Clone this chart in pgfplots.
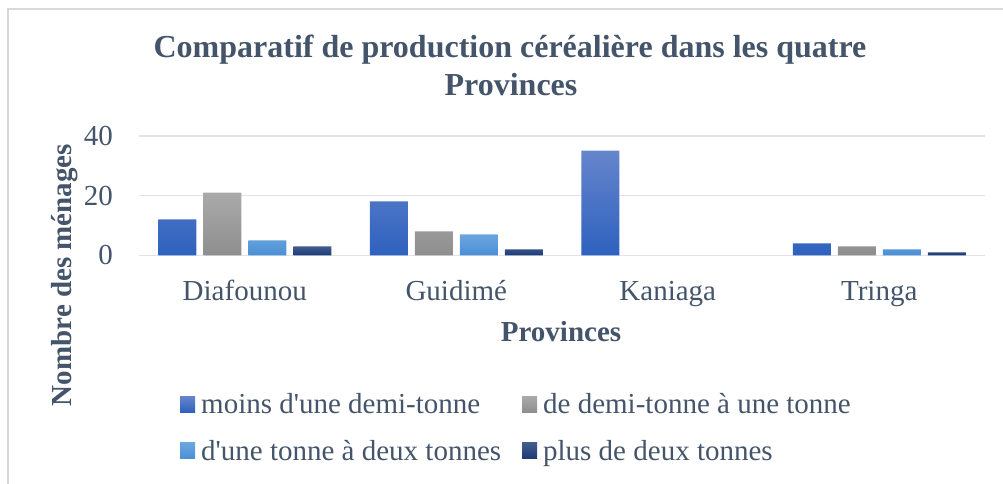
\documentclass[border=0pt]{standalone}
\usepackage{fontspec}
\setmainfont{Liberation Serif}[Ligatures=TeXOff]
\usepackage{pgfplots}
\pgfplotsset{compat=1.18}
\definecolor{txt}{RGB}{68,84,106}
\definecolor{gridc}{RGB}{224,228,234}
\definecolor{framec}{RGB}{217,217,217}
\definecolor{bAt}{RGB}{102,133,203}
\definecolor{bAb}{RGB}{46,97,190}
\definecolor{bBt}{RGB}{170,170,170}
\definecolor{bBb}{RGB}{142,142,142}
\definecolor{bCt}{RGB}{108,165,222}
\definecolor{bCb}{RGB}{74,143,213}
\definecolor{bDt}{RGB}{66,92,142}
\definecolor{bDb}{RGB}{30,58,118}
\begin{document}
\begin{tikzpicture}
\path[use as bounding box] (0pt,0pt) rectangle (1003pt,-484pt);
\draw[framec, line width=1.2pt] (8pt,-484pt) -- (8pt,-9pt) -- (1003pt,-9pt);
\node[anchor=base, font=\fontsize{32}{38}\selectfont\bfseries, text=txt, inner sep=0pt] at (510pt,-58pt) {Comparatif de production céréalière dans les quatre};
\node[anchor=base, font=\fontsize{32}{38}\selectfont\bfseries, text=txt, inner sep=0pt] at (511pt,-95.7pt) {Provinces};
\node[anchor=base, rotate=90, font=\fontsize{29}{29}\selectfont\bfseries, text=txt, inner sep=0pt] at (71pt,-275pt) {Nombre des ménages};
\node[anchor=base, font=\fontsize{29}{29}\selectfont\bfseries, text=txt, inner sep=0pt] at (561pt,-341pt) {Provinces};
\begin{axis}[
  at={(139pt,-255.3pt)}, anchor=south west,
  scale only axis, width=846pt, height=119.6pt,
  xmin=-0.5, xmax=3.5, ymin=0, ymax=40,
  ybar=7pt, bar width=38pt,
  xtick={0,1,2,3}, xticklabels={Diafounou,Guidimé,Kaniaga,Tringa},
  ytick={0,20,40},
  major tick length=0pt,
  axis line style={draw=none},
  ymajorgrids, grid style={gridc, line width=1.6pt},
  /pgf/number format/assume math mode=true,
  yticklabel style={font=\fontsize{29}{29}\selectfont, text=txt, inner sep=0pt, anchor=east, xshift=-26pt},
  xticklabel style={font=\fontsize{29}{29}\selectfont, text=txt, inner sep=0pt, anchor=base, yshift=-44.7pt},
  legend columns=2, legend cell align=left,
  legend style={draw=none, fill=none, inner sep=0pt, at={(0.04846,-1.136)}, anchor=north west,
    font=\fontsize{29}{29}\selectfont, text=txt, row sep=21pt,
    nodes={inner sep=2pt, text depth=0.15em},
    /tikz/column 1/.style={column sep=4pt},
    /tikz/column 2/.style={column sep=19pt},
    /tikz/column 3/.style={column sep=4pt}},
  legend image code/.code={\path[#1] (0pt,-8pt) rectangle (15pt,8pt);},
]
\addplot[draw=none, top color=bAt, bottom color=bAb] coordinates {(0,12) (1,18) (2,35) (3,4)};
\addlegendentry{moins d'une demi-tonne}
\addplot[draw=none, top color=bBt, bottom color=bBb] coordinates {(0,21) (1,8) (3,3)};
\addlegendentry{de demi-tonne à une tonne}
\addplot[draw=none, top color=bCt, bottom color=bCb] coordinates {(0,5) (1,7) (3,2)};
\addlegendentry{d'une tonne à deux tonnes}
\addplot[draw=none, top color=bDt, bottom color=bDb] coordinates {(0,3) (1,2) (3,1)};
\addlegendentry{plus de deux tonnes}
\end{axis}
\end{tikzpicture}
\end{document}
